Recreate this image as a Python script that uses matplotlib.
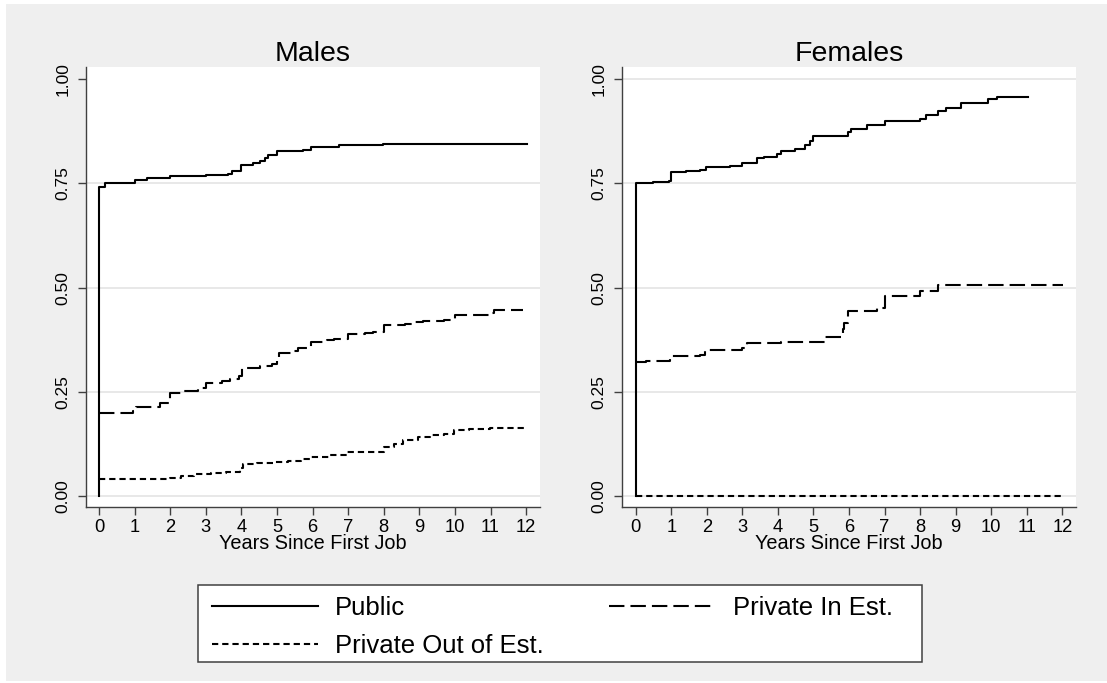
import matplotlib
matplotlib.use("Agg")
import matplotlib.pyplot as plt
from matplotlib.patches import Rectangle

plt.rcParams['font.family'] = ['Liberation Sans', 'DejaVu Sans']

# ---------------- data ----------------
panel_titles = ["Males", "Females"]
series_labels = ["Public", "Private In Est.", "Private Out of Est."]
x_ticks = list(range(0, 13))
y_ticks = [0.0, 0.25, 0.5, 0.75, 1.0]
y_tick_labels = ["0.00", "0.25", "0.50", "0.75", "1.00"]
x_label = "Years Since First Job"

# Males
m_pub_t = [0, 0, 0.17, 1.01, 1.34, 1.99, 3.0, 3.63, 3.75, 3.99, 4.34, 4.52, 4.66, 4.76, 4.99, 5.74, 5.97, 6.75, 7.99, 12.03]
m_pub_v = [0, 0.742, 0.750, 0.759, 0.762, 0.767, 0.770, 0.773, 0.780, 0.795, 0.799, 0.804, 0.810, 0.818, 0.827, 0.830, 0.838, 0.842, 0.845, 0.845]

m_in_t = [0, 0.95, 1.05, 1.72, 2.0, 2.4, 2.78, 3.0, 3.45, 3.69, 3.92, 4.02, 4.52, 4.85, 5.0, 5.05, 5.42, 5.6, 5.97, 6.4, 6.6,
          7.0, 7.47, 7.7, 8.0, 8.6, 8.83, 9.1, 9.7, 9.99, 10.97, 11.1, 11.92]
m_in_v = [0.198, 0.203, 0.213, 0.222, 0.246, 0.252, 0.258, 0.272, 0.276, 0.281, 0.288, 0.306, 0.313, 0.317, 0.334, 0.344,
          0.349, 0.354, 0.370, 0.374, 0.376, 0.388, 0.390, 0.394, 0.410, 0.413, 0.417, 0.420, 0.423, 0.434, 0.440, 0.446, 0.446]

m_out_t = [0, 2.0, 2.3, 2.66, 3.14, 3.56, 3.97, 4.05, 4.44, 4.92, 5.3, 5.67, 5.97, 6.5, 6.97, 8.0, 8.3, 8.54, 8.96, 9.3,
           9.7, 9.97, 10.4, 10.98, 11.97]
m_out_v = [0.040, 0.044, 0.048, 0.052, 0.055, 0.058, 0.066, 0.076, 0.078, 0.082, 0.085, 0.088, 0.094, 0.098, 0.106, 0.118,
           0.124, 0.134, 0.142, 0.146, 0.149, 0.158, 0.161, 0.163, 0.163]

# Females
f_pub_t = [0, 0, 0.50, 0.95, 1.0, 1.42, 1.8, 1.99, 2.65, 2.98, 3.4, 3.6, 3.98, 4.1, 4.49, 4.77, 4.91, 5.0, 5.98, 6.05,
           6.5, 7.0, 7.99, 8.17, 8.5, 8.73, 9.15, 9.9, 10.15, 11.04]
f_pub_v = [0, 0.750, 0.754, 0.757, 0.778, 0.780, 0.783, 0.790, 0.793, 0.800, 0.810, 0.814, 0.821, 0.827, 0.833, 0.843,
           0.852, 0.864, 0.874, 0.881, 0.890, 0.900, 0.905, 0.915, 0.923, 0.932, 0.944, 0.953, 0.958, 0.958]

f_in_t = [0, 0.3, 0.97, 1.02, 1.8, 1.96, 2.98, 3.12, 4.1, 5.32, 5.82, 5.87, 5.98, 6.78, 7.0, 7.99, 8.5, 12.03]
f_in_v = [0.322, 0.323, 0.328, 0.336, 0.338, 0.350, 0.354, 0.366, 0.370, 0.382, 0.400, 0.416, 0.444, 0.452, 0.480,
          0.491, 0.506, 0.506]

f_out_t = [0, 12.0]
f_out_v = [0.0, 0.0]

# ---------------- figure ----------------
W, H = 1107, 683
fig = plt.figure(figsize=(W / 100, H / 100), dpi=100, facecolor='white')
fig.patches.append(Rectangle((6 / W, 1 - 681 / H), (W - 6) / W, (681 - 4) / H,
                             transform=fig.transFigure, facecolor='#efefef',
                             edgecolor='none', zorder=-10))

LW = 1.5
STY_PUB = dict(color='black', lw=LW, linestyle='-')
STY_IN = dict(color='black', lw=LW, linestyle=(0, (7.4, 2.9)))
STY_OUT = dict(color='black', lw=LW, linestyle=(0, (3.0, 1.9)))

panels = [
    dict(rect=[86 / W, 1 - 507 / H, (540 - 86) / W, (507 - 67) / H], xlim=(-0.365, 12.39),
         grid=[0.0, 0.25, 0.5, 0.75],
         data=[(m_pub_t, m_pub_v), (m_in_t, m_in_v), (m_out_t, m_out_v)]),
    dict(rect=[621.7 / W, 1 - 507 / H, (1076 - 621.7) / W, (507 - 67) / H], xlim=(-0.394, 12.385),
         grid=[0.0, 0.25, 0.5, 0.75, 1.0],
         data=[(f_pub_t, f_pub_v), (f_in_t, f_in_v), (f_out_t, f_out_v)]),
]

handles = None
for i, p in enumerate(panels):
    ax = fig.add_axes(p['rect'])
    ax.set_facecolor('white')
    ax.set_xlim(*p['xlim'])
    ax.set_ylim(-0.0264, 1.0295)
    for g in p['grid']:
        ax.axhline(g, color='#e6e6e6', lw=1.3, zorder=0)
    (pt, pv), (it, iv), (ot, ov) = p['data']
    l_out, = ax.plot(ot, ov, drawstyle='steps-post', **STY_OUT, zorder=2)
    l_in, = ax.plot(it, iv, drawstyle='steps-post', **STY_IN, zorder=3)
    l_pub, = ax.plot(pt, pv, drawstyle='steps-post', **STY_PUB, zorder=4)
    if handles is None:
        handles = [l_pub, l_out, l_in]
    for s in ['top', 'right']:
        ax.spines[s].set_visible(False)
    for s in ['left', 'bottom']:
        ax.spines[s].set_color('#404040')
        ax.spines[s].set_linewidth(1.0)
    ax.set_xticks(x_ticks)
    ax.set_xticklabels([str(t) for t in x_ticks], fontsize=13.2)
    ax.set_yticks(y_ticks)
    ax.set_yticklabels(y_tick_labels, fontsize=12.5, rotation=90, va='center')
    ax.tick_params(axis='both', direction='out', length=6, width=1.0, color='#404040')
    ax.tick_params(axis='x', pad=3)
    ax.tick_params(axis='y', pad=5)
    ax.set_xlabel(x_label, fontsize=14.3, labelpad=-1.5)
    ax.set_title(panel_titles[i], fontsize=20.5, pad=4)

# legend box
fig.patches.append(Rectangle((198 / W, 1 - 662 / H), (921.7 - 198) / W, (662 - 585) / H,
                             transform=fig.transFigure, facecolor='white',
                             edgecolor='#404040', lw=1.1, zorder=1))
FS = 18.5
fpx = FS * 100 / 72
leg = fig.legend(handles, [series_labels[0], series_labels[2], series_labels[1]],
                 ncol=2, loc='upper left', bbox_to_anchor=(211.7 / W, 1 - 596 / H),
                 frameon=False, fontsize=FS, handlelength=106.7 / fpx,
                 handletextpad=16.7 / fpx, columnspacing=2.55, labelspacing=0.55,
                 borderpad=0, borderaxespad=0)
leg.set_zorder(5)

fig.savefig("out.png", dpi=100, facecolor=fig.get_facecolor())
